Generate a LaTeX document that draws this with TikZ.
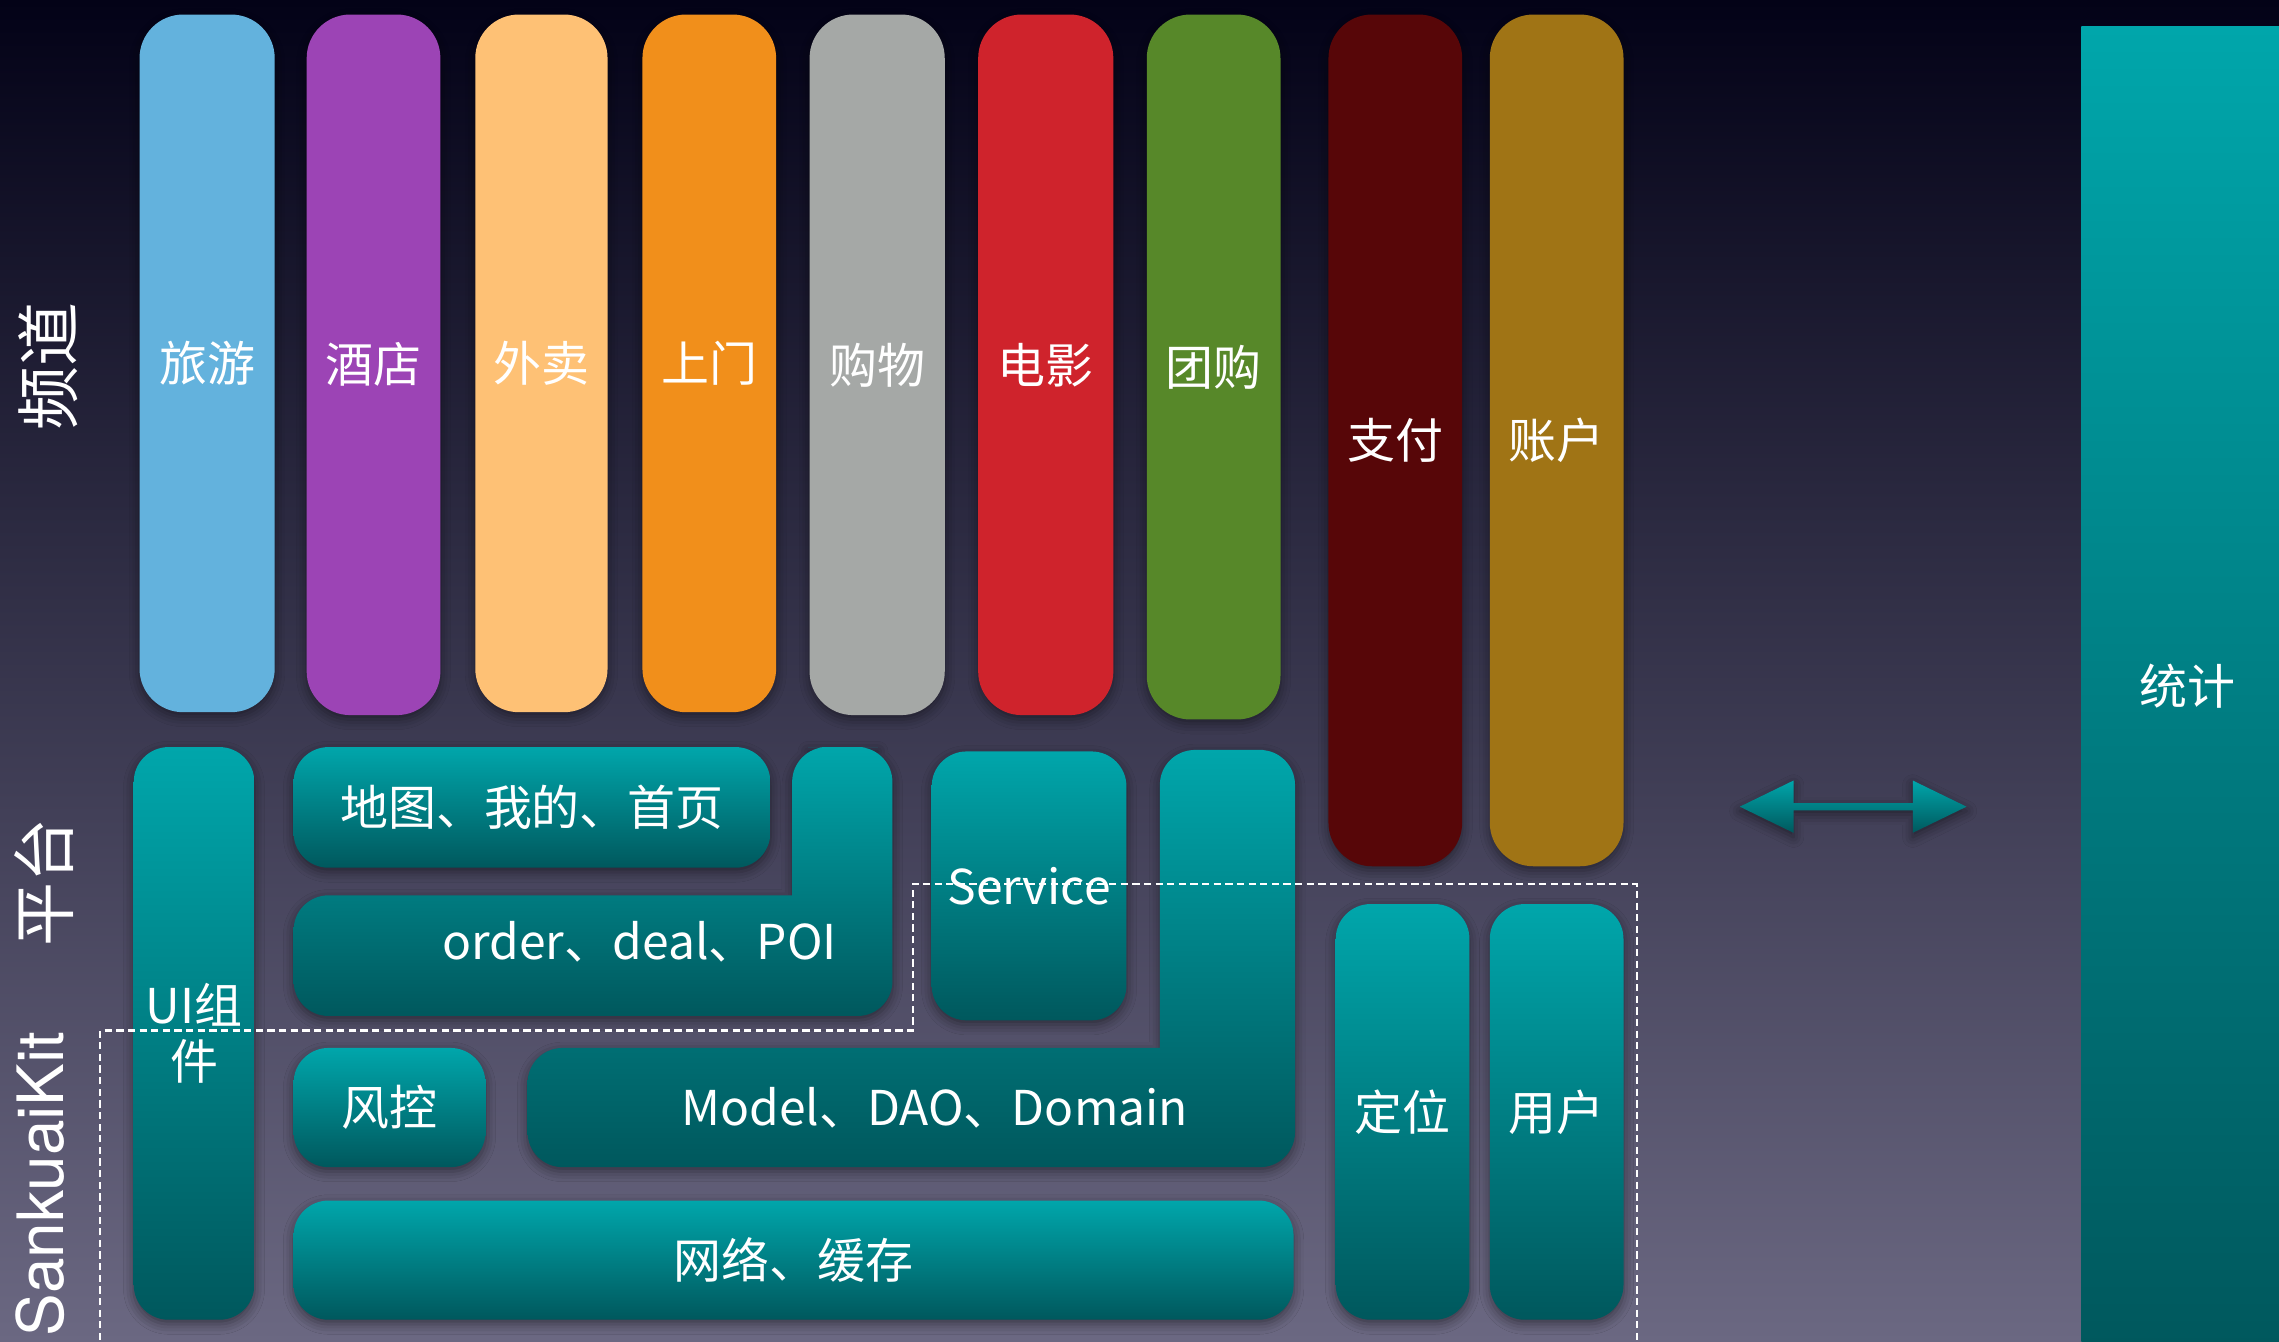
\documentclass[tikz,border=0pt]{standalone}
\usepackage{fontspec}
\setmainfont{Noto Sans CJK SC}
\newfontfamily\heros{TeX Gyre Heros}
\usetikzlibrary{shadows.blur}
\definecolor{bgtop}{HTML}{030217}
\definecolor{bgmid}{HTML}{2C2A46}
\definecolor{bgbot}{HTML}{6B6882}
\definecolor{tealT}{HTML}{00A6AB}
\definecolor{tealB}{HTML}{00585D}
\definecolor{cLvyou}{HTML}{63B2DD}
\definecolor{cJiudian}{HTML}{9C44B5}
\definecolor{cWaimai}{HTML}{FEC175}
\definecolor{cShangmen}{HTML}{F18F1B}
\definecolor{cGouwu}{HTML}{A5A8A6}
\definecolor{cDianying}{HTML}{CF232C}
\definecolor{cTuangou}{HTML}{578829}
\definecolor{cZhifu}{HTML}{570608}
\definecolor{cZhanghu}{HTML}{A07415}
\tikzset{
  softshadow/.style={blur shadow={shadow xshift=0pt, shadow yshift=-3pt, shadow blur radius=7pt, shadow opacity=45}},
  chanbar/.style={rounded corners=30pt, inner sep=0pt, text=white, softshadow,
    font=\fontsize{33}{36}\selectfont},
  platbox/.style={rounded corners=24pt, inner sep=0pt, top color=tealT, bottom color=tealB,
    text=white, softshadow, font=\fontsize{33}{39}\selectfont, align=center},
  plattext/.style={inner sep=0pt, text=white, font=\fontsize{33}{39}\selectfont},
  sidelabel/.style={inner sep=0pt, text=white, rotate=90, font=\fontsize{44}{48}\selectfont},
  dashline/.style={draw=white, line width=1.4pt, dash pattern=on 5pt off 3pt},
}
\begin{document}
\begin{tikzpicture}[x=1pt,y=-1pt]
\useasboundingbox (0,0) rectangle (1568,923);
\clip (0,0) rectangle (1568,923);
\fill[top color=bgtop, middle color=bgmid, bottom color=bgbot] (0,0) rectangle (1568,923);

% side labels
\node[sidelabel] (lblchan) at (33,252) {频道};
\node[sidelabel] (lblplat) at (30,607) {平台};
\node[inner sep=0pt, text=white, rotate=90, anchor=base east, font=\heros\fontsize{44}{48}\selectfont] (lblkit) at (44,709.5) {SankuaiKit};

% channel bars
\node[chanbar, fill=cLvyou, minimum width=93pt, minimum height=480pt] (lvyou) at (142.5,250) {旅游};
\node[chanbar, fill=cJiudian, minimum width=92pt, minimum height=482pt] (jiudian) at (257,251) {酒店};
\node[chanbar, fill=cWaimai, minimum width=91pt, minimum height=480pt] (waimai) at (372.5,250) {外卖};
\node[chanbar, fill=cShangmen, minimum width=92pt, minimum height=480pt] (shangmen) at (488,250) {上门};
\node[chanbar, fill=cGouwu, minimum width=93pt, minimum height=482pt] (gouwu) at (603.5,251) {购物};
\node[chanbar, fill=cDianying, minimum width=93pt, minimum height=482pt] (dianying) at (719.5,251) {电影};
\node[chanbar, fill=cTuangou, minimum width=92pt, minimum height=485pt] (tuangou) at (835,252.5) {团购};
\node[chanbar, fill=cZhifu, minimum width=92pt, minimum height=586pt] (zhifu) at (960,303) {支付};
\node[chanbar, fill=cZhanghu, minimum width=92pt, minimum height=586pt] (zhanghu) at (1071,303) {账户};

% statistics column
\node[inner sep=0pt, top color=tealT, bottom color=tealB, text=white, font=\fontsize{33}{36}\selectfont,
  minimum width=146pt, minimum height=908pt] (tongji) at (1505,472) {统计};

% platform boxes
\node[platbox, minimum width=83pt, minimum height=394pt] (ui) at (133.5,711) {UI组\\件};
\node[platbox, minimum width=328pt, minimum height=83pt] (ditu) at (366,555.5) {地图、我的、首页};
\path[top color=tealT, bottom color=tealB, softshadow, rounded corners=24pt]
  (580,514) -- (614,514) -- (614,699) -- (202,699) -- (202,616) -- (500,616)
  [sharp corners] -- (545,616) -- (545,570) [rounded corners=24pt] -- (545,514) -- cycle;
\node[plattext] (order) at (440,648) {order、deal、POI};
\node[platbox, minimum width=134pt, minimum height=185pt] (service) at (708,609.5) {Service};
\path[top color=tealT, bottom color=tealB, softshadow, rounded corners=24pt]
  (845,516) -- (891,516) -- (891,803) -- (363,803) -- (363,721) -- (700,721)
  [sharp corners] -- (798,721) -- (798,660) [rounded corners=24pt] -- (798,516) -- cycle;
\node[plattext] (model) at (643,762) {Model、DAO、Domain};
\node[platbox, minimum width=132pt, minimum height=82pt] (fengkong) at (268,762) {风控};
\node[platbox, minimum width=688pt, minimum height=82pt] (wangluo) at (546,867) {网络、缓存};
\node[platbox, minimum width=92pt, minimum height=286pt] (dingwei) at (965,765) {定位};
\node[platbox, minimum width=92pt, minimum height=286pt] (yonghu) at (1071,765) {用户};

% double arrow
\coordinate (arrL) at (1197,555);
\coordinate (arrR) at (1353,555);
\path[top color=tealT, bottom color=tealB, softshadow]
  (arrL) -- (1234,537) -- (1234,552.5) -- (1316,552.5) -- (1316,537) -- (arrR)
  -- (1316,573) -- (1316,557.5) -- (1234,557.5) -- (1234,573) -- cycle;

% SankuaiKit boundary
\draw[dashline] (69,930) -- (69,709) -- (628,709) -- (628,608) -- (1126,608) -- (1126,930);
\end{tikzpicture}
\end{document}
